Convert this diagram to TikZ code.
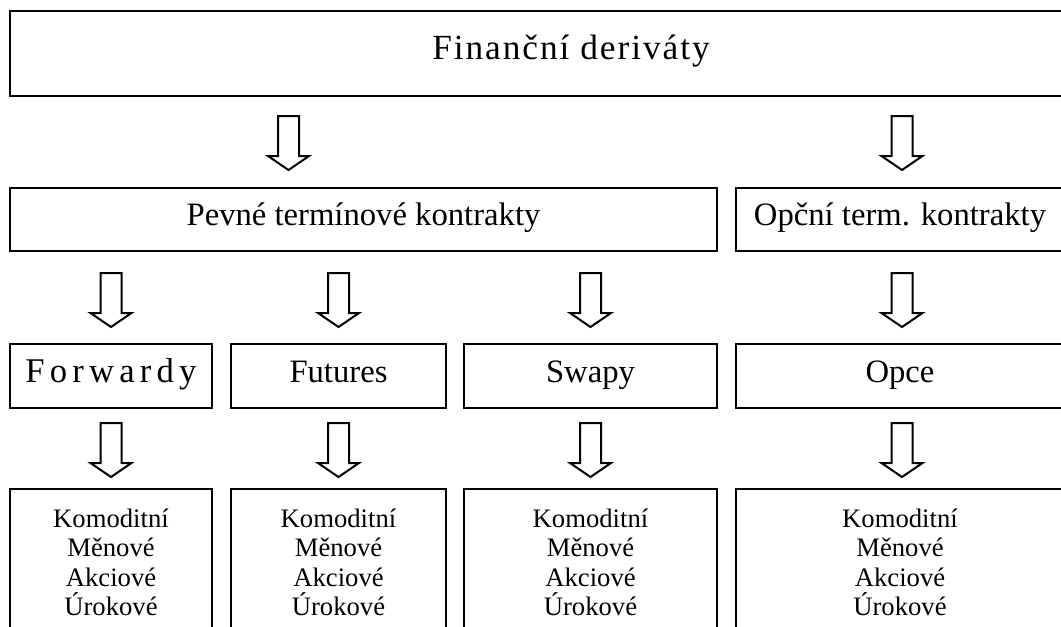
\documentclass[tikz,border=0pt]{standalone}
\usepackage{fontspec}
\setmainfont{Liberation Serif}

\begin{document}
\begin{tikzpicture}[x=0.75pt,y=-0.75pt,line width=1.5pt,
  box node/.style={draw,rectangle,inner sep=0pt,text height=0.9em,text depth=0em,font=\fontsize{24.5}{29}\selectfont},
  list node/.style={draw,rectangle,inner sep=0pt,align=center,minimum height=110.25pt,font=\fontsize{20}{22.1}\selectfont},
  down arrow/.pic={\draw[line join=miter] (-10.5,0) -- (10.5,0) -- (10.5,40) -- (20.5,40) -- (0,54) -- (-20.5,40) -- (-10.5,40) -- cycle;}]
  \useasboundingbox (0,0) rectangle (1061,626);

  \node[box node,minimum width=841.5pt,minimum height=63.75pt] (deriv) at (571,53.5) {\fontsize{26.5}{30}\selectfont\addfontfeature{LetterSpace=5.5}Finanční deriváty};

  \node[box node,minimum width=530.25pt,minimum height=47.25pt] (pevne) at (363.5,219.5) {Pevné termínové kontrakty};
  \node[box node,minimum width=246pt,minimum height=47.25pt] (opcni) at (900,219.5) {Opční term. kontrakty};

  \node[box node,minimum width=151.5pt,minimum height=48pt] (fwd) at (111,376) {\fontsize{26}{30}\selectfont\addfontfeature{LetterSpace=15}Forwardy};
  \node[box node,minimum width=161.25pt,minimum height=48pt] (fut) at (338.5,376) {Futures};
  \node[box node,minimum width=189.75pt,minimum height=48pt] (swp) at (590.5,376) {Swapy};
  \node[box node,minimum width=246pt,minimum height=48pt] (opc) at (900,376) {Opce};

  \node[list node,minimum width=151.5pt] (fwdlist) at (111,562.5) {Komoditní\\Měnové\\Akciové\\Úrokové};
  \node[list node,minimum width=161.25pt] (futlist) at (338.5,562.5) {Komoditní\\Měnové\\Akciové\\Úrokové};
  \node[list node,minimum width=189.75pt] (swplist) at (590.5,562.5) {Komoditní\\Měnové\\Akciové\\Úrokové};
  \node[list node,minimum width=246pt] (opclist) at (900,562.5) {Komoditní\\Měnové\\Akciové\\Úrokové};

  % arrows between the rows
  \pic at (288.5,116) {down arrow};
  \pic at (902,116) {down arrow};
  \foreach \x in {111,338.5,590.5,902} {
    \pic at (\x,273) {down arrow};
    \pic at (\x,423) {down arrow};
  }
\end{tikzpicture}
\end{document}
